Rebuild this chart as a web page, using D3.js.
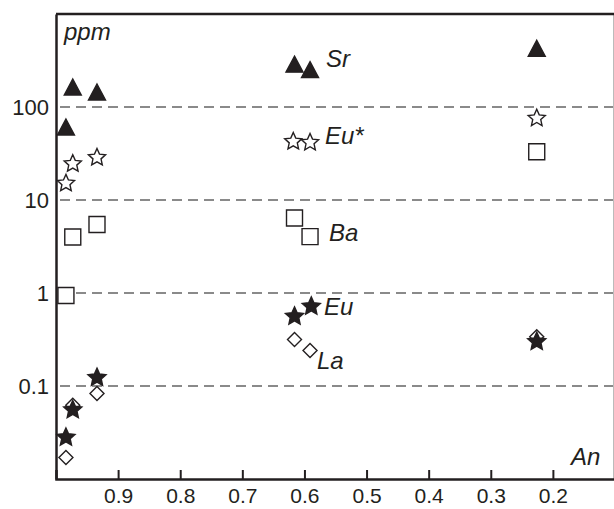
<!DOCTYPE html>
<html>
<head>
<meta charset="utf-8">
<script src="https://cdn.jsdelivr.net/npm/d3@7"></script>
<style>
  html, body { margin: 0; padding: 0; background: #fff; }
  svg { display: block; }
  text { font-family: "Liberation Sans", Arial, sans-serif; fill: #231f20; }
</style>
</head>
<body>
<svg id="chart"></svg>
<script>
// An (x) values for each sample
const anSr = [0.984, 0.973, 0.934, 0.616, 0.591, 0.226]
const sr = [61, 164, 145, 289, 252, 428]

const anEuStar = [0.984, 0.973, 0.934, 0.618, 0.591, 0.226]
const euStar = [15.1, 24.5, 28.6, 42.5, 41.5, 75.7]

const anBa = [0.984, 0.973, 0.934, 0.616, 0.591, 0.226]
const ba = [0.94, 4.0, 5.46, 6.4, 4.04, 33]

const anLa = [0.984, 0.973, 0.934, 0.616, 0.591, 0.226]
const la = [0.017, 0.062, 0.083, 0.316, 0.241, 0.338]

const anEu = [0.984, 0.973, 0.934, 0.616, 0.589, 0.226]
const eu = [0.028, 0.0553, 0.123, 0.561, 0.718, 0.30]

const xTicks = [0.9, 0.8, 0.7, 0.6, 0.5, 0.4, 0.3, 0.2]
const yTicks = [0.1, 1, 10, 100]
const yTickLabels = ['0.1', '1', '10', '100']

const WIDTH = 614
const HEIGHT = 509
const PADDING = { top: 14, right: -1, bottom: 30, left: 56 }

const svg = d3.select('#chart')
    .attr('width', WIDTH)
    .attr('height', HEIGHT)
    .attr('viewBox', `0 0 ${WIDTH} ${HEIGHT}`)

const leftSide = PADDING.left
const rightSide = WIDTH - PADDING.right
const topSide = PADDING.top
const bottomSide = HEIGHT - PADDING.bottom

const xScale = d3.scaleLinear().domain([1, 0.1]).range([leftSide, rightSide])
const yScale = d3.scaleLog().domain([0.01, 1000]).range([bottomSide, topSide])

// custom symbols, size = bounding width in px
const triangleUp = {
    draw(ctx, size) {
        const w = size / 2
        const h = size * 0.47
        ctx.moveTo(0, -h)
        ctx.lineTo(w, h)
        ctx.lineTo(-w, h)
        ctx.closePath()
    }
}
const square = {
    draw(ctx, size) {
        const s = size / 2
        ctx.rect(-s, -s, size, size)
    }
}
const diamond = {
    draw(ctx, size) {
        const s = size / 2
        ctx.moveTo(0, -s)
        ctx.lineTo(s, 0)
        ctx.lineTo(0, s)
        ctx.lineTo(-s, 0)
        ctx.closePath()
    }
}
const star = {
    draw(ctx, size) {
        // size = outer radius
        const ro = size
        const ri = size * 0.47
        for (let i = 0; i < 10; i++) {
            const r = i % 2 === 0 ? ro : ri
            const a = -Math.PI / 2 + i * Math.PI / 5
            const x = r * Math.cos(a)
            const y = r * Math.sin(a)
            if (i === 0) ctx.moveTo(x, y)
            else ctx.lineTo(x, y)
        }
        ctx.closePath()
    }
}

// gridlines
svg.append('g')
    .selectAll('line')
    .data(yTicks)
    .join('line')
    .attr('x1', leftSide)
    .attr('x2', rightSide)
    .attr('y1', d => yScale(d))
    .attr('y2', d => yScale(d))
    .attr('stroke', '#8a8a8a')
    .attr('stroke-width', 2)
    .attr('stroke-dasharray', '10,6')
    .attr('stroke-dashoffset', -4)

// frame
svg.append('line')
    .attr('x1', rightSide - 1.5).attr('x2', rightSide - 1.5)
    .attr('y1', topSide).attr('y2', bottomSide)
    .attr('stroke', '#bbb').attr('stroke-width', 1)
svg.append('line')
    .attr('x1', leftSide).attr('x2', rightSide)
    .attr('y1', topSide).attr('y2', topSide)
    .attr('stroke', '#231f20').attr('stroke-width', 2.5)

// axes
const xAxis = d3.axisBottom(xScale)
    .tickValues(xTicks)
    .tickSize(-9)
    .tickPadding(9)
    .tickFormat(d3.format('.1f'))
const xAxisGroup = svg.append('g')
    .attr('transform', `translate(0,${bottomSide})`)
    .call(xAxis)
xAxisGroup.select('.domain').attr('stroke', '#231f20').attr('stroke-width', 2.5)
xAxisGroup.selectAll('.tick line').attr('stroke', '#231f20').attr('stroke-width', 2)
xAxisGroup.selectAll('.tick text').attr('font-size', 21).attr('font-family', null).attr('fill', '#231f20')

const yAxis = d3.axisLeft(yScale)
    .tickValues(yTicks)
    .tickSize(0)
    .tickPadding(7)
    .tickFormat((d, i) => yTickLabels[i])
const yAxisGroup = svg.append('g')
    .attr('transform', `translate(${leftSide},0)`)
    .call(yAxis)
yAxisGroup.select('.domain').attr('stroke', '#231f20').attr('stroke-width', 2.5)
yAxisGroup.selectAll('.tick text').attr('font-size', 22).attr('font-family', null).attr('fill', '#231f20')

// series
function drawSeries(xs, ys, type, size, fill) {
    const sym = d3.symbol().type(type).size(size)
    svg.append('g')
        .selectAll('path')
        .data(xs.map((x, i) => [x, ys[i]]))
        .join('path')
        .attr('transform', d => `translate(${xScale(d[0])},${yScale(d[1])})`)
        .attr('d', sym)
        .attr('fill', fill)
        .attr('stroke', '#231f20')
        .attr('stroke-width', 1.4)
        .attr('stroke-linejoin', 'miter')
}

drawSeries(anSr, sr, triangleUp, 17, '#231f20')
drawSeries(anEuStar, euStar, star, 9, '#fff')
drawSeries(anBa, ba, square, 16, '#fff')
drawSeries(anLa, la, diamond, 14, '#fff')
drawSeries(anEu, eu, star, 9.5, '#231f20')

// labels
const labels = [
    { text: 'ppm', x: 64, y: 40 },
    { text: 'Sr', x: 326, y: 67 },
    { text: 'Eu*', x: 325, y: 144 },
    { text: 'Ba', x: 329, y: 241 },
    { text: 'Eu', x: 324, y: 315 },
    { text: 'La', x: 317, y: 369 },
    { text: 'An', x: 571, y: 465 },
]
svg.append('g')
    .selectAll('text')
    .data(labels)
    .join('text')
    .attr('x', d => d.x)
    .attr('y', d => d.y)
    .attr('font-size', 24)
    .attr('font-style', 'italic')
    .text(d => d.text)
</script>
</body>
</html>
